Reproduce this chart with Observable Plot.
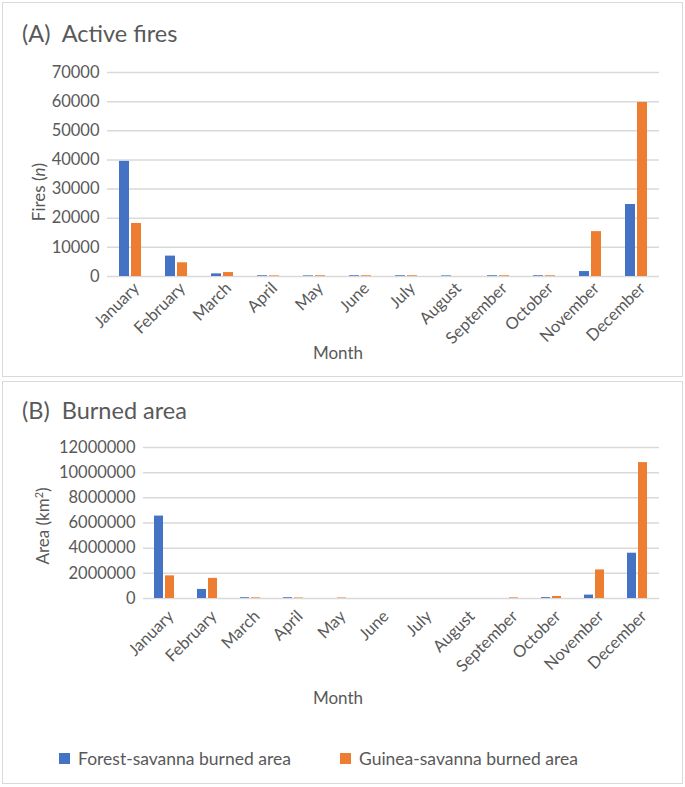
<!DOCTYPE html>
<html>
<head>
<meta charset="utf-8">
<script src="https://cdn.jsdelivr.net/npm/d3@7"></script>
<script src="https://cdn.jsdelivr.net/npm/@observablehq/plot@0.6"></script>
<style>
  html, body { margin: 0; padding: 0; background: #fff; }
  body { width: 685px; height: 787px; position: relative; overflow: hidden; font-family: Lato, "Open Sans", sans-serif; color: #595959; }
  .box { position: absolute; box-sizing: border-box; border: 1.5px solid #d9d9d9; }
  .title { position: absolute; font-size: 23.5px; white-space: pre; line-height: 1; }
  .lab { position: absolute; font-size: 17px; white-space: nowrap; line-height: 1; transform: translate(-50%, -50%); }
  .ylab { position: absolute; font-size: 17px; white-space: nowrap; line-height: 1; transform: translate(-50%, -50%) rotate(-90deg); }
  .chart { position: absolute; left: 0; }
  .chart svg g[aria-label^="fx-axis"] { translate: 6px 0; }
  .legend { position: absolute; top: 748px; left: 0; width: 685px; font-size: 17.5px; }
  .item { position: absolute; display: flex; align-items: center; white-space: nowrap; }
  .sw { width: 11px; height: 11px; margin-right: 8px; }
</style>
</head>
<body>
<div class="box" style="left:2px; top:2px; width:681px; height:375px;"></div>
<div class="box" style="left:2px; top:381px; width:681px; height:403px;"></div>

<div class="title" style="left:22px; top:22px;">(A)  Active fires</div>
<div class="title" style="left:22px; top:399px;">(B)  Burned area</div>

<div class="ylab" style="left:38px; top:192px;">Fires (<i>n</i>)</div>
<div class="ylab" style="left:42px; top:526px;">Area (km<sup style="font-size:11px;">2</sup>)</div>

<div class="lab" style="left:338px; top:352px;">Month</div>
<div class="lab" style="left:338px; top:697px;">Month</div>

<div id="chartA" class="chart" style="top:53px;"></div>
<div id="chartB" class="chart" style="top:430px;"></div>

<div class="legend" id="legend"></div>

<script>
const months = ["January","February","March","April","May","June","July","August","September","October","November","December"];
const seriesNames = ["Forest-savanna burned area","Guinea-savanna burned area"];
const seriesColors = ["#4472C4","#ED7D31"];

// (A) Active fires (n)
const forestFires = [39500, 7000, 900, 250, 200, 250, 250, 200, 250, 250, 1700, 24700];
const guineaFires = [18200, 4700, 1350, 200, 250, 250, 250, 0, 250, 250, 15400, 59700];
const yTicksA = [0, 10000, 20000, 30000, 40000, 50000, 60000, 70000];

// (B) Burned area (km2)
const forestArea = [6550000, 720000, 60000, 60000, 0, 0, 0, 0, 0, 70000, 270000, 3600000];
const guineaArea = [1800000, 1600000, 50000, 40000, 40000, 0, 0, 0, 50000, 160000, 2270000, 10800000];
const yTicksB = [0, 2000000, 4000000, 6000000, 8000000, 10000000, 12000000];

function makeData(a, b) {
  return months.flatMap((m, i) => [
    {month: m, series: seriesNames[0], value: a[i]},
    {month: m, series: seriesNames[1], value: b[i]}
  ]);
}

function makeChart(data, ticks, opts) {
  return Plot.plot({
    width: 685,
    height: opts.height,
    marginLeft: opts.marginLeft,
    marginRight: 22,
    marginTop: opts.marginTop,
    marginBottom: opts.marginBottom,
    style: {fontFamily: "Lato, 'Open Sans', sans-serif", fontSize: "16.5px", color: "#595959", background: "transparent", overflow: "visible"},
    facet: {data: data, x: "month"},
    fx: {domain: months, padding: 0, label: null, tickRotate: -45, tickSize: 0, tickPadding: opts.tickPadding},
    x: {domain: seriesNames, axis: null, paddingInner: 0.15, paddingOuter: 0.95},
    y: {domain: [ticks[0], ticks[ticks.length - 1]], ticks: ticks, tickSize: 0, tickPadding: 8, label: null, tickFormat: d3.format("d")},
    color: {domain: seriesNames, range: seriesColors},
    marks: [
      Plot.ruleY(ticks, {stroke: "#d9d9d9", strokeWidth: 1.5}),
      Plot.barY(data, {x: "series", y: "value", fill: "series"})
    ]
  });
}

document.getElementById("chartA").appendChild(
  makeChart(makeData(forestFires, guineaFires), yTicksA, {height: 320, marginLeft: 103, marginTop: 19, marginBottom: 97, tickPadding: 9})
);
document.getElementById("chartB").appendChild(
  makeChart(makeData(forestArea, guineaArea), yTicksB, {height: 280, marginLeft: 139, marginTop: 17, marginBottom: 112, tickPadding: 15})
);

const legend = document.getElementById("legend");
const legendX = [59, 340];
seriesNames.forEach((s, i) => {
  const it = document.createElement("div");
  it.className = "item";
  it.style.left = legendX[i] + "px";
  it.innerHTML = `<span class="sw" style="background:${seriesColors[i]}"></span><span>${s}</span>`;
  legend.appendChild(it);
});
</script>
</body>
</html>
